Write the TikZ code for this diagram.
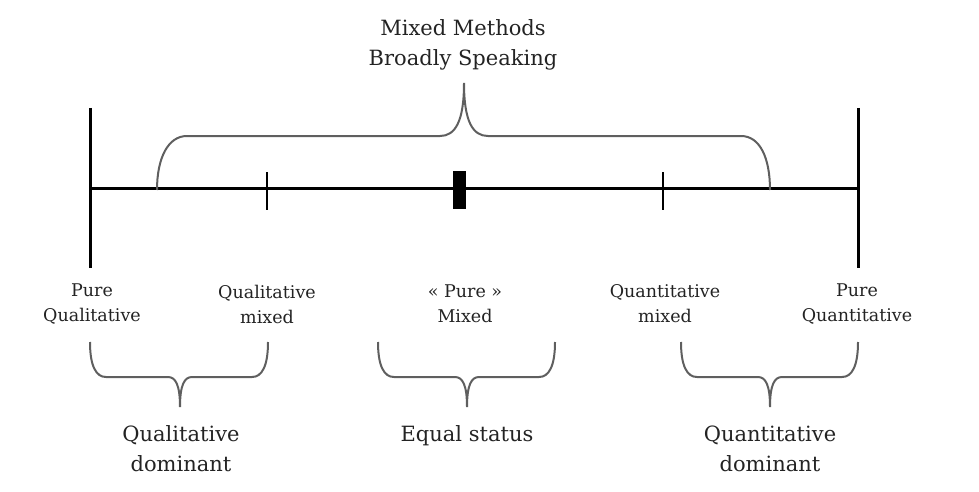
\documentclass[tikz,border=0pt]{standalone}
\usepackage{fontspec}
\setmainfont{DejaVu Serif}
\usetikzlibrary{positioning}
\definecolor{bracegray}{RGB}{95,95,95}
\definecolor{inkdark}{RGB}{35,35,35}
\tikzset{
  lbl/.style={align=center,inner sep=0pt,text=inkdark,font=\fontsize{8.75}{12.5}\selectfont},
  biglbl/.style={align=center,inner sep=0pt,text=inkdark,font=\fontsize{10.5}{15}\selectfont},
  curly/.style={draw=bracegray,line width=1pt},
  axisline/.style={line width=1.5pt},
  tick/.style={line width=1pt}
}

\begin{document}
\begin{tikzpicture}[x=0.5pt,y=-0.5pt]
	\useasboundingbox (0,0) rectangle (979,492);
	% continuum
	\coordinate (lend) at (90,188);
	\coordinate (rend) at (858,188);
	\draw[axisline] (lend) -- (rend);
	\draw[axisline] (90,108) -- (90,268);
	\draw[axisline] (858,108) -- (858,268);
	\draw[tick] (267,172) -- (267,210);
	\draw[tick] (663,172) -- (663,210);
	\fill (453,171) rectangle (466,209);
	% top brace
	\draw[curly] (157,190) .. controls (157,158) and (168,136) .. (187,136) -- (440,136)
		.. controls (455,136) and (464,122) .. (464,83)
		.. controls (464,122) and (473,136) .. (488,136) -- (741,136)
		.. controls (760,136) and (770,158) .. (770,190);
	\node[biglbl] (title) at (463,45) {Mixed Methods\\Broadly Speaking};
	% labels under the line
	\node[lbl] (pureql) at (92,304) {Pure\\Qualitative};
	\node[lbl] (qlmix) at (267,304) {Qualitative\\mixed};
	\node[lbl] (puremix) at (465,304) {« Pure »\\Mixed};
	\node[lbl] (qnmix) at (665,304) {Quantitative\\mixed};
	\node[lbl] (pureqn) at (857,304) {Pure\\Quantitative};
	% bottom braces
	\foreach \a/\m/\b in {90/180/268, 378/467/555, 681/770/858}
		\draw[curly] (\a,342) .. controls (\a,366) and (\a+6,377) .. (\a+16,377) -- (\m-12,377)
			.. controls (\m-4,377) and (\m,386) .. (\m,407)
			.. controls (\m,386) and (\m+4,377) .. (\m+12,377) -- (\b-16,377)
			.. controls (\b-6,377) and (\b,366) .. (\b,342);
	\node[biglbl] (qldom) at (181,449) {Qualitative\\dominant};
	\node[biglbl] (equal) at (467,436) {Equal status};
	\node[biglbl] (qndom) at (770,449) {Quantitative\\dominant};
\end{tikzpicture}
\end{document}
